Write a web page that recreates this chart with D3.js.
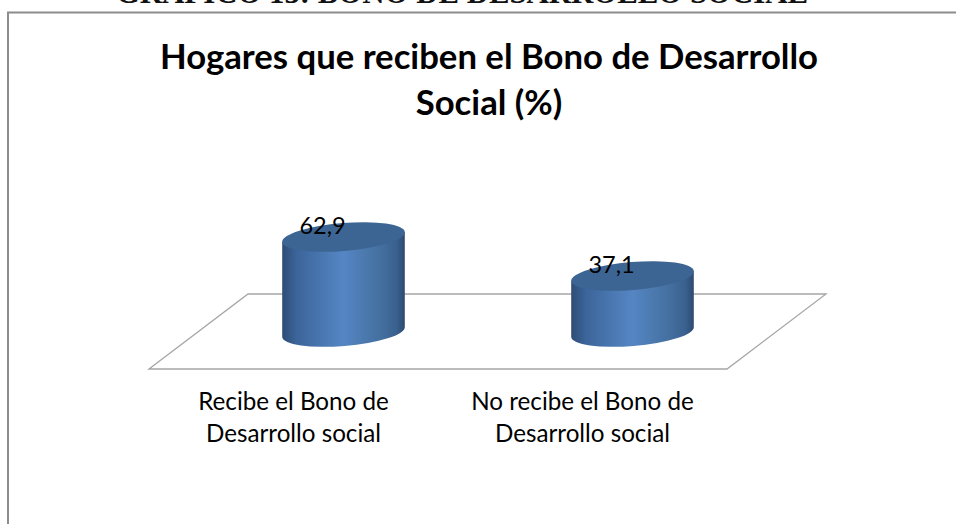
<!DOCTYPE html>
<html>
<head>
<meta charset="utf-8">
<script src="https://d3js.org/d3.v7.min.js"></script>
<style>
  html, body { margin: 0; padding: 0; background: #fff; overflow: hidden; }
</style>
</head>
<body>
<div id="chart"></div>
<script>
const categories = [
  ["Recibe el Bono de", "Desarrollo social"],
  ["No recibe el Bono de", "Desarrollo social"],
];
const values = [62.9, 37.1];
const valueLabels = ["62,9", "37,1"];
const titleLines = ["Hogares que reciben el Bono de Desarrollo", "Social (%)"];
const pageHeading = "GRÁFICO 13: BONO DE DESARROLLO SOCIAL";

const width = 956;
const height = 524;

const svg = d3
  .select("#chart")
  .append("svg")
  .attr("width", width)
  .attr("height", height)
  .attr("viewBox", [0, 0, width, height])
  .style("display", "block");

const defs = svg.append("defs");
const grad = defs.append("linearGradient").attr("id", "side");
grad
  .selectAll("stop")
  .data([
    [0, "#2e4d75"],
    [0.12, "#3c659a"],
    [0.5, "#5586c4"],
    [0.8, "#44709f"],
    [0.93, "#3a6190"],
    [1, "#2d4a70"],
  ])
  .join("stop")
  .attr("offset", (d) => d[0])
  .attr("stop-color", (d) => d[1]);

// text cut off at the top of the page
svg
  .append("text")
  .attr("x", 462)
  .attr("y", 3)
  .attr("text-anchor", "middle")
  .attr("font-family", "Liberation Serif")
  .attr("font-weight", "bold")
  .attr("font-size", 30.8)
  .attr("fill", "#111")
  .text(pageHeading);

// chart frame, right and bottom run off the page
svg
  .append("path")
  .attr("d", `M8,${height + 2}V12.5H${width + 2}`)
  .attr("fill", "none")
  .attr("stroke", "#8c8c8c")
  .attr("stroke-width", 2);

svg
  .append("g")
  .attr("font-family", "Lato")
  .attr("font-weight", "bold")
  .attr("font-size", 34.7)
  .attr("text-anchor", "middle")
  .selectAll("text")
  .data(titleLines)
  .join("text")
  .attr("x", 489)
  .attr("y", (d, i) => 69 + i * 46)
  .attr("fill", "#000")
  .text((d) => d);

const x = d3
  .scaleBand()
  .domain(d3.range(categories.length))
  .range([149, 727]);
const floorY = 369;
const depthX = 99;
const depthY = -75;

const y = d3.scaleLinear().domain([0, 100]).range([332, 181]);

// floor
svg
  .append("path")
  .attr(
    "d",
    d3.line()([
      [x.range()[0], floorY],
      [x.range()[0] + depthX, floorY + depthY],
      [x.range()[1] + depthX, floorY + depthY],
      [x.range()[1], floorY],
    ]) + "Z"
  )
  .attr("fill", "none")
  .attr("stroke", "#a6a6a6")
  .attr("stroke-width", 1.3);

const rx = 61.5;
const ry = 14;
const tilt = -4.7;
const rad = (tilt * Math.PI) / 180;
const dx = rx * Math.cos(rad);
const dy = rx * Math.sin(rad);

const bars = svg
  .append("g")
  .selectAll("g")
  .data(values)
  .join("g")
  .attr("transform", (d, i) => `translate(${x(i) + x.bandwidth() / 2 + 50},0)`);

// side of the cylinder, flat top edge and curved bottom
bars
  .append("path")
  .attr("fill", "url(#side)")
  .attr("d", (d) => {
    const top = y(d);
    const bottom = y(0);
    return (
      `M${-dx},${top - dy}L${dx},${top + dy}L${dx},${bottom + dy}` +
      `A${rx},${ry} ${tilt} 0 1 ${-dx},${bottom - dy}Z`
    );
  });

bars
  .append("ellipse")
  .attr("rx", rx)
  .attr("ry", ry)
  .attr("fill", "#3d6593")
  .attr("transform", (d) => `translate(0,${y(d)}) rotate(${tilt})`);

bars
  .append("text")
  .attr("x", -21)
  .attr("y", (d) => y(d) - 3)
  .attr("text-anchor", "middle")
  .attr("font-family", "Lato")
  .attr("font-size", 23.5)
  .attr("fill", "#000")
  .text((d, i) => valueLabels[i]);

svg
  .append("g")
  .selectAll("text")
  .data(categories)
  .join("text")
  .attr("text-anchor", "middle")
  .attr("font-family", "Lato")
  .attr("font-size", 24.2)
  .attr("fill", "#000")
  .attr("transform", (d, i) => `translate(${x(i) + x.bandwidth() / 2},0)`)
  .selectAll("tspan")
  .data((d) => d)
  .join("tspan")
  .attr("x", 0)
  .attr("y", (d, i) => 410 + i * 32)
  .text((d) => d);
</script>
</body>
</html>
